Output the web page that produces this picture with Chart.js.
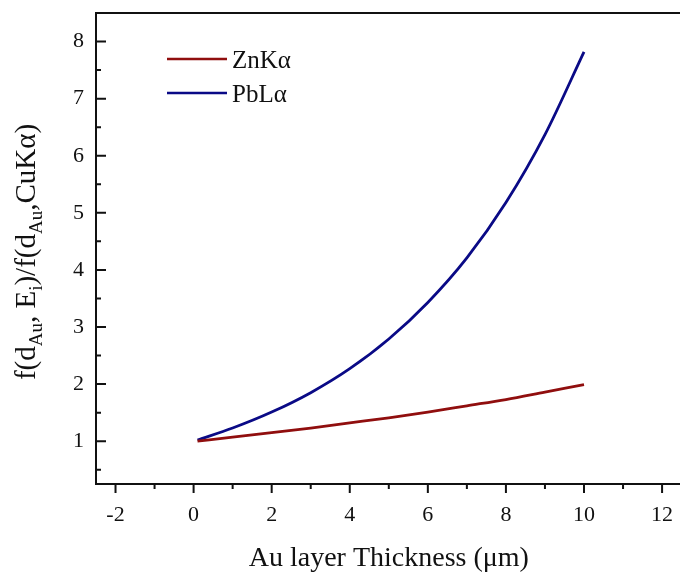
<!DOCTYPE html>
<html>
<head>
<meta charset="utf-8">
<script src="https://cdn.jsdelivr.net/npm/chart.js@4/dist/chart.umd.min.js"></script>
<style>
html,body{margin:0;padding:0;background:#fff;overflow:hidden;}
#wrap{width:700px;height:576px;}
</style>
</head>
<body>
<div id="wrap"><canvas id="chart" width="700" height="576"></canvas></div>
<script>
// values
const THICKNESS = [0.1, 1, 2, 3, 4, 5, 6, 7, 8, 9, 10];
const ZNKA      = [1.00, 1.07, 1.15, 1.23, 1.32, 1.41, 1.51, 1.62, 1.73, 1.86, 1.99];
const PBLA      = [1.02, 1.23, 1.51, 1.85, 2.27, 2.79, 3.43, 4.21, 5.18, 6.37, 7.82];
const SERIES    = ['ZnK\u03b1', 'PbL\u03b1'];
const X_TICKS = [-2, 0, 2, 4, 6, 8, 10, 12];
const X_MINOR = [-1, 1, 3, 5, 7, 9, 11];
const Y_TICKS = [1, 2, 3, 4, 5, 6, 7, 8];
const Y_MINOR = [0.5, 1.5, 2.5, 3.5, 4.5, 5.5, 6.5, 7.5];

const FONT = '"Liberation Serif", "Times New Roman", serif';
const RED = '#900e0e', BLUE = '#0a0a86';

function pts(ys){return THICKNESS.map((x,i)=>({x:x, y:ys[i]}));}

// box, inner y ticks, outer x ticks
const frame = {
  id:'frame',
  afterDraw(chart){
    const {ctx, chartArea:a, scales:{x, y}} = chart;
    ctx.save();
    ctx.strokeStyle = '#111'; ctx.lineWidth = 2;
    ctx.strokeRect(a.left, a.top, a.right - a.left, a.bottom - a.top);
    ctx.beginPath();
    Y_TICKS.forEach(v=>{const p=y.getPixelForValue(v); ctx.moveTo(a.left, p); ctx.lineTo(a.left+10, p);});
    Y_MINOR.forEach(v=>{const p=y.getPixelForValue(v); ctx.moveTo(a.left, p); ctx.lineTo(a.left+5, p);});
    X_TICKS.forEach(v=>{const p=x.getPixelForValue(v); ctx.moveTo(p, a.bottom); ctx.lineTo(p, a.bottom+9);});
    X_MINOR.forEach(v=>{const p=x.getPixelForValue(v); ctx.moveTo(p, a.bottom); ctx.lineTo(p, a.bottom+5);});
    ctx.stroke();
    ctx.restore();
  }
};

// y title with subscripts
const yTitle = {
  id:'yTitle',
  afterDraw(chart){
    const ctx = chart.ctx;
    const parts = [['f(d',0],['Au',1],[', E',0],['i',1],[')/f(d',0],['Au',1],[',CuK\u03b1)',0]];
    const big = '29px ' + FONT, small = '19px ' + FONT;
    ctx.save();
    let w = 0;
    parts.forEach(p=>{ctx.font = p[1]?small:big; w += ctx.measureText(p[0]).width;});
    ctx.translate(35, 252);
    ctx.rotate(-Math.PI/2);
    ctx.fillStyle = '#111';
    ctx.textBaseline = 'alphabetic';
    let cx = -w/2;
    parts.forEach(p=>{
      ctx.font = p[1]?small:big;
      ctx.fillText(p[0], cx, p[1]?7:0);
      cx += ctx.measureText(p[0]).width;
    });
    ctx.restore();
  }
};

// legend in the upper left of the plot
const legendBox = {
  id:'legendBox',
  afterDraw(chart){
    const ctx = chart.ctx;
    ctx.save();
    chart.data.datasets.forEach((ds,i)=>{
      const yy = 59 + i*34;
      ctx.strokeStyle = ds.borderColor; ctx.lineWidth = 2.5;
      ctx.beginPath(); ctx.moveTo(167, yy); ctx.lineTo(227, yy); ctx.stroke();
      ctx.fillStyle = '#111'; ctx.font = '25px ' + FONT; ctx.textBaseline = 'alphabetic';
      ctx.fillText(ds.label, 232, yy + 8.5);
    });
    ctx.restore();
  }
};

new Chart(document.getElementById('chart').getContext('2d'), {
  type:'line',
  data:{
    datasets:[
      {label:SERIES[0], data:pts(ZNKA), borderColor:RED, borderWidth:2.8, pointRadius:0, cubicInterpolationMode:'monotone', fill:false},
      {label:SERIES[1], data:pts(PBLA), borderColor:BLUE, borderWidth:2.8, pointRadius:0, cubicInterpolationMode:'monotone', fill:false}
    ]
  },
  options:{
    responsive:false,
    animation:false,
    layout:{padding:{top:13, right:18.4, left:0, bottom:0}},
    plugins:{legend:{display:false}, tooltip:{enabled:false}},
    scales:{
      x:{
        type:'linear', min:-2.5, max:12.5,
        afterBuildTicks:s=>{s.ticks = X_TICKS.map(v=>({value:v}));},
        afterFit:s=>{s.height = 92; s.paddingLeft = 0; s.paddingRight = 0;},
        grid:{display:false}, border:{display:false},
        ticks:{font:{family:FONT, size:22}, color:'#111', padding:10, maxRotation:0, autoSkip:false},
        title:{display:true, text:'Au layer Thickness (\u03bcm)', color:'#111', font:{family:FONT, size:28}, padding:{top:0, bottom:1}}
      },
      y:{
        type:'linear', min:0.25, max:8.5,
        afterBuildTicks:s=>{s.ticks = Y_TICKS.map(v=>({value:v}));},
        afterFit:s=>{s.width = 96; s.paddingTop = 0; s.paddingBottom = 0;},
        grid:{display:false, drawTicks:false}, border:{display:false},
        ticks:{font:{family:FONT, size:22}, color:'#111', padding:12}
      }
    }
  },
  plugins:[frame, yTitle, legendBox]
});
</script>
</body>
</html>
